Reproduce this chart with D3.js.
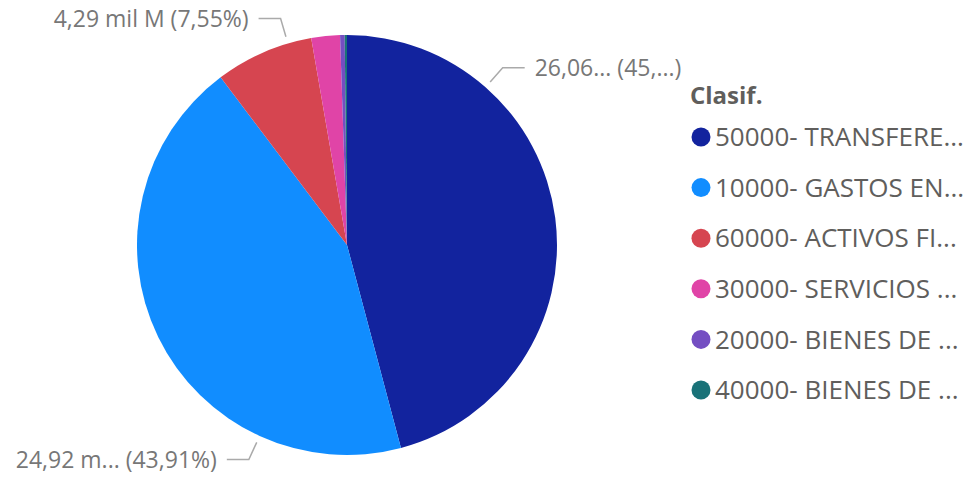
<!DOCTYPE html>
<html>
<head>
<meta charset="utf-8">
<script src="https://cdn.jsdelivr.net/npm/d3@7"></script>
<style>
  body { margin: 0; background: #fff; }
  svg { display: block; font-family: "Open Sans", sans-serif; }
</style>
</head>
<body>
<script>
// data (miles de millones)
let categories = ["50000- TRANSFERE...", "10000- GASTOS EN...", "60000- ACTIVOS FI...", "30000- SERVICIOS ...", "20000- BIENES DE ...", "40000- BIENES DE ..."];
let values = [26.06, 24.92, 4.29, 1.25, 0.20, 0.10];
let colors = ["#12239E", "#118DFF", "#D64550", "#E044A7", "#744EC2", "#197278"];
let dataLabels = ["26,06... (45,...)", "24,92 m... (43,91%)", "4,29 mil M (7,55%)", null, null, null];
let legendTitle = "Clasif.";

// where along each slice the leader line leaves it (0..1)
let labelAt = [0.25, 0.25, 0.76];

let width = 966, height = 477;
let cx = 347, cy = 245, radius = 210;

let svg = d3.select("body")
  .append("svg")
  .attr("width", width)
  .attr("height", height)

let pie = d3.pie().sort(null).value(d => d)
let arcs = pie(values)
let arc = d3.arc().innerRadius(0).outerRadius(radius)

let pieGroup = svg.append("g")
  .attr("transform", `translate(${cx},${cy})`)

pieGroup.selectAll("path")
  .data(arcs)
  .enter()
  .append("path")
  .attr("d", arc)
  .style("fill", (d, i) => colors[i])

// leader lines + labels
function polar(a, r) {
  return [Math.sin(a) * r, -Math.cos(a) * r];
}

let labelled = arcs.filter((d, i) => dataLabels[i] != null)

let labelGroup = pieGroup.selectAll("g.lbl")
  .data(labelled)
  .enter()
  .append("g")
  .attr("class", "lbl")

labelGroup.each(function (d, i) {
  let g = d3.select(this)
  let a = d.startAngle + (d.endAngle - d.startAngle) * labelAt[i]
  let p0 = polar(a, radius + 7)
  let p1 = polar(a, radius + 26)
  let right = Math.sin(a) > 0
  let p2 = [p1[0] + (right ? 22 : -22), p1[1]]
  g.append("polyline")
    .attr("points", [p0, p1, p2].map(p => p.join(",")).join(" "))
    .style("fill", "none")
    .style("stroke", "#aaaaaa")
    .style("stroke-width", 1.5)
  g.append("text")
    .attr("x", p2[0] + (right ? 10 : -10))
    .attr("y", p2[1])
    .attr("dy", "0.35em")
    .attr("text-anchor", right ? "start" : "end")
    .attr("font-size", "23px")
    .attr("fill", "#777777")
    .text(dataLabels[d.index])
})

// legend
let legend = svg.append("g")
  .attr("transform", "translate(690,0)")

legend.append("text")
  .attr("x", 0)
  .attr("y", 96)
  .attr("dy", "0.35em")
  .attr("font-size", "24px")
  .attr("font-weight", "bold")
  .attr("fill", "#605E5C")
  .text(legendTitle)

let items = legend.selectAll("g.item")
  .data(categories)
  .enter()
  .append("g")
  .attr("class", "item")
  .attr("transform", (d, i) => `translate(0,${137 + i * 50.6})`)

items.append("circle")
  .attr("cx", 11)
  .attr("cy", 0)
  .attr("r", 9.5)
  .style("fill", (d, i) => colors[i])

items.append("text")
  .attr("x", 25)
  .attr("y", 0)
  .attr("dy", "0.35em")
  .attr("font-size", "26px")
  .attr("fill", "#605E5C")
  .text(d => d)
</script>
</body>
</html>
